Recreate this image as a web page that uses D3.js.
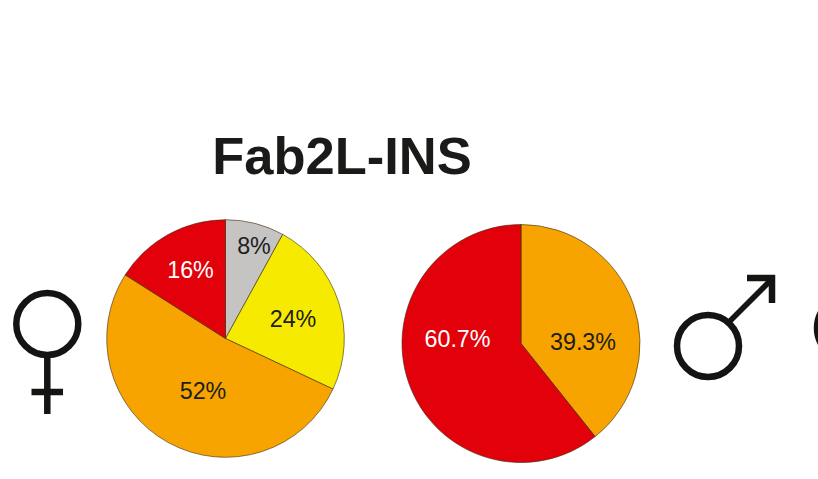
<!DOCTYPE html>
<html><head><meta charset="utf-8">
<script src="https://cdn.jsdelivr.net/npm/d3@7"></script>
<style>html,body{margin:0;padding:0;background:#fff}svg{display:block}text{font-family:"Liberation Sans",Arial,sans-serif}</style>
</head><body><svg id="c" width="818" height="479"></svg>
<script>
const titleText = "Fab2L-INS";
const femaleLabels = ["8%","24%","52%","16%"];
const femaleValues = [8,24,52,16];
const femaleColors = ["#c6c3c3","#f6ea00","#f7a400","#e2000b"];
const femaleText = ["#1d1d1b","#1d1d1b","#1d1d1b","#ffffff"];
const femaleLabelPos = [[254,246],[293,319],[203,391],[190.5,270]];
const maleLabels = ["39.3%","60.7%"];
const maleValues = [39.3,60.7];
const maleColors = ["#f7a400","#e2000b"];
const maleText = ["#1d1d1b","#ffffff"];
const maleLabelPos = [[583,342],[457.5,339]];

const svg = d3.select("#c");
svg.append("text").attr("x",342).attr("y",174).attr("text-anchor","middle")
  .attr("font-size",52.5).attr("font-weight","bold").attr("fill","#1a1a18").text(titleText);

function drawPie(cx,cy,r,vals,cols,labs,txt,pos){
  const pie = d3.pie().sort(null);
  const arc = d3.arc().innerRadius(0).outerRadius(r);
  const g = svg.append("g").attr("transform",`translate(${cx},${cy})`);
  g.selectAll("path").data(pie(vals)).join("path").attr("d",arc)
    .attr("fill",(d,i)=>cols[i]).attr("stroke","#3a2a10").attr("stroke-width",0.6);
  svg.append("g").selectAll("text").data(labs).join("text")
    .attr("x",(d,i)=>pos[i][0]).attr("y",(d,i)=>pos[i][1]).attr("dy","0.35em")
    .attr("text-anchor","middle").attr("font-size",23.3).attr("fill",(d,i)=>txt[i]).text(d=>d);
}
drawPie(225.5,338.5,118.8,femaleValues,femaleColors,femaleLabels,femaleText,femaleLabelPos);
drawPie(521,343.5,119,maleValues,maleColors,maleLabels,maleText,maleLabelPos);

const ink = "#141413";
const sym = svg.append("g").attr("fill","none").attr("stroke",ink).attr("stroke-width",6.5);
sym.append("circle").attr("cx",47.3).attr("cy",324).attr("r",31);
sym.append("path").attr("d","M47.3 356V414M31.5 392H63");
sym.append("circle").attr("cx",708).attr("cy",346).attr("r",31);
sym.append("path").attr("d","M730 321L771 280").attr("stroke-width",5.5);
sym.append("path").attr("d","M747 278H772V303");
sym.append("circle").attr("cx",849).attr("cy",328).attr("r",32);
</script></body></html>
